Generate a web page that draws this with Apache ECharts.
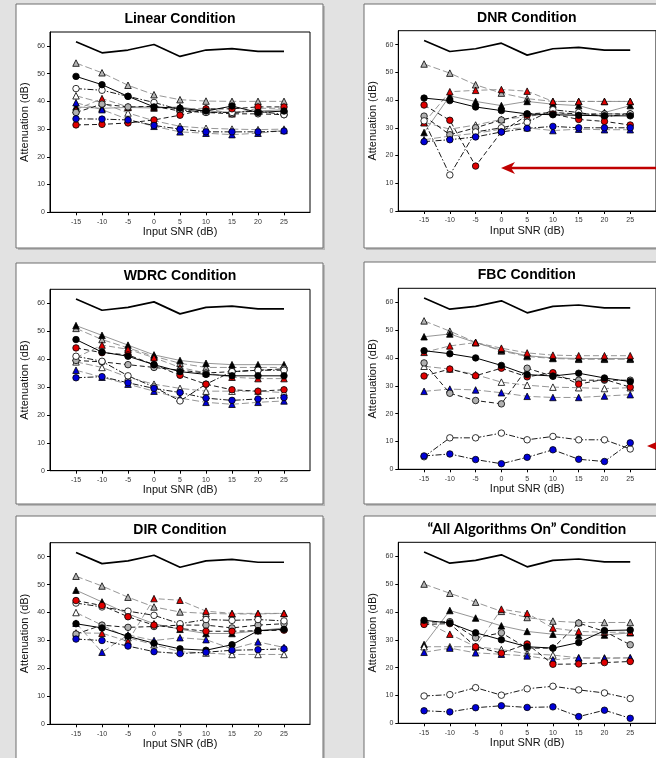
<!DOCTYPE html>
<html><head><meta charset="utf-8">
<script src="https://cdn.jsdelivr.net/npm/echarts@6/dist/echarts.min.js"></script>
<style>html,body{margin:0;padding:0;background:#e2e2e2}#c{width:656px;height:758px}</style>
</head><body><div id="c"></div>
<script>
// ---------- DATA ----------
const snr = [-15, -10, -5, 0, 5, 10, 15, 20, 25];
const xTicks = [-15, -10, -5, 0, 5, 10, 15, 20, 25];
const yTicks = [0, 10, 20, 30, 40, 50, 60];
const titles = ['Linear Condition', 'DNR Condition', 'WDRC Condition', 'FBC Condition', 'DIR Condition', '\u201cAll Algorithms On\u201d Condition'];
const reference = [61.5, 57.5, 58.5, 60.5, 56.2, 58.5, 59, 58, 58];

// Linear
const lin_gt = [53.8, 50.3, 45.8, 42.4, 40.6, 40.1, 40, 40, 40];
const lin_bt = [38, 37.5, 37.8, 37.6, 38, 36.5, 36, 36.5, 37];
const lin_wt = [42, 39.5, 35.8, 33, 31, 30.3, 30, 29.8, 30];
const lin_rt = [37, 41, 38, 38, 37.3, 37.5, 35.5, 37.5, 37.5];
const lin_blt = [39.5, 37, 33.5, 31, 29, 28.5, 28, 28.5, 29.5];
const lin_bc = [49, 46, 41.8, 38, 37.5, 36.5, 38.3, 36, 36.5];
const lin_wc = [44.6, 44, 41.8, 39.6, 37, 36, 36, 36.5, 35.2];
const lin_gc = [36, 39, 38, 38.2, 36.5, 36, 35.5, 35.5, 35.2];
const lin_rc = [31.5, 31.7, 32.2, 33.3, 35, 37.3, 37.3, 38, 38];
const lin_blc = [33.7, 33.6, 33.3, 31.3, 30, 29, 29, 29, 29.3];
// DNR
const dnr_gt = [53, 49.7, 45.5, 42.5, 40.5, 39.5, 39.5, 39.5, 39.5];
const dnr_bt = [28.3, 41.5, 39.5, 38, 39.5, 38.5, 38, 35.5, 38];
const dnr_wt = [32, 29.5, 31, 33, 34, 35.5, 34.5, 35, 35];
const dnr_rt = [31.8, 43, 43.5, 43.8, 43.2, 39.5, 39.5, 39.5, 39.5];
const dnr_blt = [25.7, 27, 28, 29.5, 30, 29, 29.5, 29.3, 29.3];
const dnr_bc = [40.7, 39.8, 37.5, 36.2, 35, 34.7, 34.5, 34.3, 34.3];
const dnr_wc = [32.5, 13, 28.5, 30, 32, 36.5, 35.5, 34, 35];
const dnr_gc = [34.2, 27.5, 30, 32.8, 35, 35.5, 35, 35, 35];
const dnr_rc = [38.2, 32.7, 16.2, 28.5, 34.5, 35, 33, 32.3, 31];
const dnr_blc = [25, 25.7, 26.7, 28.5, 29.8, 30.5, 30, 30, 30];
// WDRC
const wd_gt = [51, 47, 44, 41, 38.5, 37, 37, 37, 37];
const wd_bt = [52, 48.5, 45, 41.5, 39.5, 38.5, 38, 38, 38];
const wd_wt = [39, 37, 33.5, 31, 29.5, 28.5, 28.5, 28.5, 28];
const wd_rt = [40.5, 45, 43.5, 40.5, 37, 35, 33.5, 33, 33];
const wd_blt = [36, 33.5, 31, 28.5, 26, 24.5, 23.8, 24.5, 25];
const wd_bc = [47, 42.5, 41, 38, 35.5, 34.5, 34, 34, 34];
const wd_wc = [41, 39.2, 34, 30, 25, 31, 35.5, 36, 36];
const wd_gc = [39.5, 39, 38, 37, 36, 35, 35.5, 36, 36.5];
const wd_rc = [44, 42.3, 41.5, 38, 34.2, 31, 29, 28.5, 29];
const wd_blc = [33.3, 33.7, 31.5, 29.5, 28, 26, 25.2, 25.7, 26.2];
// FBC
const fb_gt = [53.3, 49.6, 45.6, 42.5, 40.5, 39.8, 39.5, 39.5, 39.5];
const fb_bt = [47.6, 48.6, 45.5, 42.8, 40.8, 40, 39.8, 39.8, 39.8];
const fb_wt = [37, 36, 34, 31.3, 30.2, 29.5, 29.3, 29, 29.3];
const fb_rt = [42, 44.3, 45.5, 43.5, 41.8, 41, 40.8, 40.8, 40.8];
const fb_blt = [28, 28.8, 28.5, 27.5, 26.2, 25.8, 25.8, 26.3, 26.8];
const fb_bc = [42.6, 41.5, 40, 37.3, 34, 33.5, 34.5, 32.8, 31.5];
const fb_wc = [4.5, 11.3, 11.3, 13, 10.6, 11.8, 10.6, 10.6, 7.3];
const fb_gc = [38.2, 27.3, 24.7, 23.5, 36.3, 33.4, 32, 32, 32];
const fb_rc = [33.5, 36, 33.6, 36.3, 33.2, 34.7, 30.6, 32.3, 29.5];
const fb_blc = [4.8, 5.5, 3.5, 2, 4.3, 7, 3.6, 2.8, 9.5];
// DIR
const dir_gt = [53, 49.5, 45.5, 42, 40.2, 39.7, 39.5, 39.5, 39.7];
const dir_bt = [48, 43.8, 39.5, 36, 34, 32.5, 32.5, 33.5, 34.5];
const dir_wt = [40, 35.5, 31, 28.5, 26, 25.5, 25, 25, 25];
const dir_rt = [32.7, 32.6, 29.7, 45, 44.4, 40.5, 39.7, 39.7, 39.7];
const dir_blt = [36.2, 25.8, 32, 30, 31, 30.3, 27, 29.5, 27.5];
const dir_bc = [36, 34.5, 31.5, 29, 27, 26.5, 28.5, 33.5, 34];
const dir_wc = [43.4, 42, 40.5, 39, 36, 37.5, 37.2, 37.5, 37];
const dir_gc = [32.3, 35.5, 34.7, 35, 35.5, 35.5, 34.5, 35.5, 36];
const dir_rc = [44.3, 42.5, 38.5, 35.5, 34.3, 33.3, 33.3, 33.5, 33.7];
const dir_blc = [30.5, 30, 28, 26, 25.3, 25.8, 26.5, 26.7, 27];
// All algorithms on
const all_gt = [50, 46.7, 43.5, 40.2, 38, 36.7, 36.2, 36.2, 36.2];
const all_bt = [28.3, 40.5, 37.8, 35, 33, 32, 31.5, 31.7, 32.5];
const all_wt = [27.5, 27.5, 27.5, 26.5, 25, 24.5, 23.5, 23.5, 23.5];
const all_rt = [36.7, 32, 27.5, 41, 39.5, 34.2, 33, 32.7, 32.7];
const all_blt = [25.5, 27, 25.3, 24.8, 24.2, 22.8, 23.5, 23.3, 23.5];
const all_bc = [37, 36, 32.5, 30, 27.5, 27, 29, 33.3, 33.5];
const all_wc = [9.8, 10.3, 12.8, 10.1, 12.4, 13.3, 12, 10.9, 8.9];
const all_gc = [36.3, 36.5, 30.7, 32.5, 27, 27, 36, 33, 28.2];
const all_rc = [35.5, 35.8, 27.5, 25.2, 28.5, 21.2, 21.3, 21.8, 22.2];
const all_blc = [4.5, 4.1, 5.6, 6.3, 5.7, 5.9, 2.4, 4.7, 1.8];

const panels = [
  {gt: lin_gt, bt: lin_bt, wt: lin_wt, rt: lin_rt, blt: lin_blt, bc: lin_bc, wc: lin_wc, gc: lin_gc, rc: lin_rc, blc: lin_blc},
  {gt: dnr_gt, bt: dnr_bt, wt: dnr_wt, rt: dnr_rt, blt: dnr_blt, bc: dnr_bc, wc: dnr_wc, gc: dnr_gc, rc: dnr_rc, blc: dnr_blc},
  {gt: wd_gt, bt: wd_bt, wt: wd_wt, rt: wd_rt, blt: wd_blt, bc: wd_bc, wc: wd_wc, gc: wd_gc, rc: wd_rc, blc: wd_blc},
  {gt: fb_gt, bt: fb_bt, wt: fb_wt, rt: fb_rt, blt: fb_blt, bc: fb_bc, wc: fb_wc, gc: fb_gc, rc: fb_rc, blc: fb_blc},
  {gt: dir_gt, bt: dir_bt, wt: dir_wt, rt: dir_rt, blt: dir_blt, bc: dir_bc, wc: dir_wc, gc: dir_gc, rc: dir_rc, blc: dir_blc},
  {gt: all_gt, bt: all_bt, wt: all_wt, rt: all_rt, blt: all_blt, bc: all_bc, wc: all_wc, gc: all_gc, rc: all_rc, blc: all_blc}
];

// ---------- STYLES ----------
const STY = {
  gt:  {sym: 'triangle', fill: '#b4b4b4', line: '#8a8a8a', dash: [7, 3], w: 0.9, size: 6.5},
  bt:  {sym: 'triangle', fill: '#000000', line: '#8a8a8a', dash: 'solid', w: 0.9, size: 6.5},
  wt:  {sym: 'triangle', fill: '#ffffff', line: '#8a8a8a', dash: [7, 3], w: 0.9, size: 6.5},
  rt:  {sym: 'triangle', fill: '#e00000', line: '#8a8a8a', dash: [6, 3], w: 0.9, size: 6.5},
  blt: {sym: 'triangle', fill: '#0000d8', line: '#8a8a8a', dash: [7, 3], w: 0.9, size: 6.5},
  bc:  {sym: 'circle', fill: '#000000', line: '#000000', dash: 'solid', w: 1, size: 6.5},
  wc:  {sym: 'circle', fill: '#ffffff', line: '#000000', dash: [6, 2, 1.5, 2], w: 0.9, size: 6.5},
  gc:  {sym: 'circle', fill: '#b0b0b0', line: '#000000', dash: [5, 3], w: 0.9, size: 6.5},
  rc:  {sym: 'circle', fill: '#e00000', line: '#000000', dash: [5, 3], w: 0.9, size: 6.5},
  blc: {sym: 'circle', fill: '#0000d8', line: '#000000', dash: [6, 2, 1.5, 2], w: 0.9, size: 6.5}
};
const ORDER = ['gt', 'bt', 'wt', 'rt', 'blt', 'gc', 'wc', 'rc', 'bc', 'blc'];

const grids = [
  {left: 50, top: 32, width: 260, height: 180.3},
  {left: 398.3, top: 30.7, width: 261, height: 180.3},
  {left: 50, top: 289.3, width: 260, height: 181.4},
  {left: 398.3, top: 288.3, width: 261, height: 181},
  {left: 50, top: 542.7, width: 260, height: 181.6},
  {left: 398.3, top: 542.3, width: 261, height: 181}
];
const boxes = [
  {x: 16, y: 4, w: 307, h: 244},
  {x: 364, y: 4, w: 320, h: 244},
  {x: 16, y: 263, w: 307, h: 241},
  {x: 364, y: 262, w: 320, h: 242},
  {x: 16, y: 516, w: 307, h: 260},
  {x: 364, y: 516, w: 320, h: 260}
];

const pairs = arr => snr.map((x, i) => [x, arr[i]]);

const option = {
  backgroundColor: '#e2e2e2',
  animation: false,
  grid: grids.map(g => Object.assign({show: true, borderColor: '#000', borderWidth: 1, backgroundColor: 'transparent'}, g)),
  xAxis: grids.map((g, i) => ({
    gridIndex: i, type: 'value', min: -20, max: 30, interval: 5,
    name: 'Input SNR (dB)', nameLocation: 'middle', nameGap: 14,
    nameTextStyle: {fontFamily: 'Liberation Sans', fontSize: 11, color: '#111'},
    axisLine: {show: true, onZero: false, lineStyle: {color: '#000', width: 1}},
    axisTick: {show: true, length: 3, lineStyle: {color: '#000'}, customValues: xTicks},
    axisLabel: {fontSize: 7, color: '#333', margin: 6, fontFamily: 'Liberation Sans', customValues: xTicks},
    splitLine: {show: false}
  })),
  yAxis: grids.map((g, i) => ({
    gridIndex: i, type: 'value', min: 0, max: 65, interval: 10,
    name: 'Attenuation (dB)', nameLocation: 'middle', nameGap: 20,
    nameTextStyle: {fontFamily: 'Liberation Sans', fontSize: 11, color: '#111'},
    axisLine: {show: true, onZero: false, lineStyle: {color: '#000', width: 1}},
    axisTick: {show: true, length: 3, lineStyle: {color: '#000'}, customValues: yTicks},
    axisLabel: {fontSize: 7, color: '#333', margin: 5, fontFamily: 'Liberation Sans', customValues: yTicks},
    splitLine: {show: false}
  })),
  series: [],
  graphic: []
};

panels.forEach((p, i) => {
  option.series.push({
    type: 'line', xAxisIndex: i, yAxisIndex: i, data: pairs(reference), symbol: 'none',
    lineStyle: {color: '#000', width: 1.7}, z: 2
  });
  ORDER.forEach(k => {
    const s = STY[k];
    option.series.push({
      type: 'line', xAxisIndex: i, yAxisIndex: i, data: pairs(p[k]),
      symbol: s.sym, symbolSize: s.size,
      itemStyle: {color: s.fill, borderColor: '#000', borderWidth: 0.8},
      lineStyle: {color: s.line, width: s.w, type: s.dash},
      z: 3
    });
  });
});

boxes.forEach((b, i) => {
  option.graphic.push({type: 'rect', z: -10, shape: {x: b.x + 2, y: b.y + 2, width: b.w, height: b.h}, style: {fill: '#b8b8b8'}});
  option.graphic.push({type: 'rect', z: -9, shape: {x: b.x, y: b.y, width: b.w, height: b.h}, style: {fill: '#fff', stroke: '#6e6e6e', lineWidth: 1}});
  const g = grids[i];
  option.graphic.push({type: 'text', z: 10, style: {
    text: titles[i], x: g.left + g.width / 2 - (i % 2 ? 2 : 0), y: g.top - 13,
    textAlign: 'center', textVerticalAlign: 'middle',
    font: i === 5 ? 'bold 15px Lato' : 'bold 14px "Liberation Sans"', fill: '#000'
  }});
});

// red arrows
function arrow(xHead, y, xEnd) {
  return {type: 'group', z: 20, children: [
    {type: 'line', shape: {x1: xHead + 10, y1: y, x2: xEnd, y2: y}, style: {stroke: '#c00000', lineWidth: 2.6}},
    {type: 'polygon', shape: {points: [[xHead, y], [xHead + 14, y - 6], [xHead + 10, y], [xHead + 14, y + 6]]}, style: {fill: '#c00000'}}
  ]};
}
option.graphic.push(arrow(501, 168, 660));
option.graphic.push(arrow(647, 446, 660));

echarts.init(document.getElementById('c'), null, {renderer: 'canvas'}).setOption(option);
</script></body></html>
